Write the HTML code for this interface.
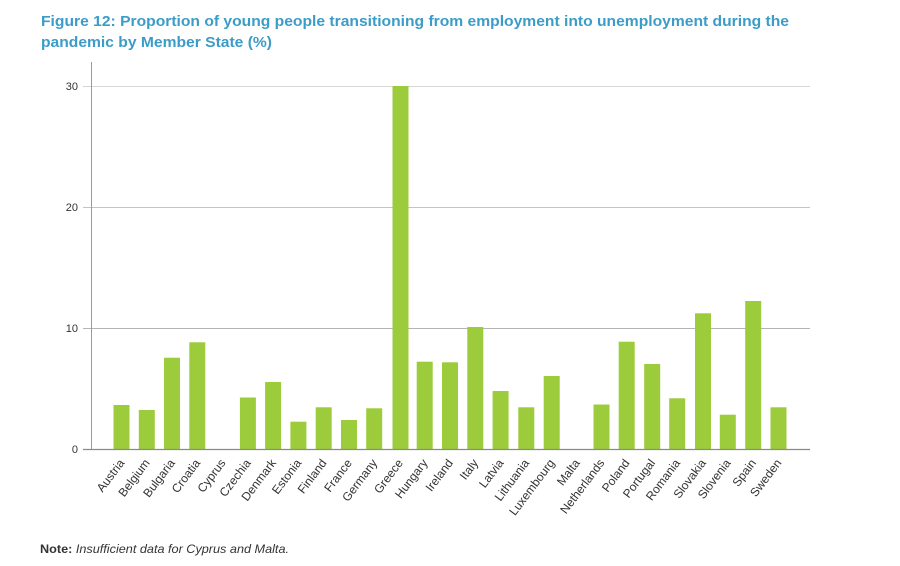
<!DOCTYPE html>
<html>
<head>
<meta charset="utf-8">
<style>
html,body{margin:0;padding:0;background:#fff;}
body{width:900px;height:566px;overflow:hidden;}
svg{display:block;}
</style>
</head>
<body>
<svg width="900" height="566" viewBox="0 0 900 566" xmlns="http://www.w3.org/2000/svg" font-family="Liberation Sans, sans-serif">
  <rect width="900" height="566" fill="#fff"/>
  <!-- Title -->
  <text x="41" y="26" font-size="15" font-weight="bold" fill="#3b9cc8" textLength="748" lengthAdjust="spacingAndGlyphs">Figure 12: Proportion of young people transitioning from employment into unemployment during the</text>
  <text x="41" y="47" font-size="15" font-weight="bold" fill="#3b9cc8" textLength="231" lengthAdjust="spacingAndGlyphs">pandemic by Member State (%)</text>

  <!-- gridlines -->
  <line x1="83" y1="86.5" x2="810" y2="86.5" stroke="#d6d6d6" stroke-width="1"/>
  <line x1="83" y1="207.5" x2="810" y2="207.5" stroke="#c4c4c4" stroke-width="1"/>
  <line x1="83" y1="328.5" x2="810" y2="328.5" stroke="#b4b4b4" stroke-width="1"/>

  <!-- y labels -->
  <g font-size="11" fill="#333" text-anchor="end">
    <text x="78" y="90">30</text>
    <text x="78" y="211">20</text>
    <text x="78" y="332">10</text>
    <text x="78" y="453">0</text>
  </g>

  <!-- bars -->
  <g fill="#9ccb3b">
    <rect x="113.5" y="405" width="16" height="44"/>
    <rect x="138.8" y="410" width="16" height="39"/>
    <rect x="164.0" y="357.7" width="16" height="91.3"/>
    <rect x="189.3" y="342.3" width="16" height="106.7"/>
    <rect x="239.9" y="397.5" width="16" height="51.5"/>
    <rect x="265.1" y="382" width="16" height="67"/>
    <rect x="290.4" y="421.7" width="16" height="27.3"/>
    <rect x="315.7" y="407.3" width="16" height="41.7"/>
    <rect x="341.0" y="420" width="16" height="29"/>
    <rect x="366.2" y="408.3" width="16" height="40.7"/>
    <rect x="392.5" y="86" width="16" height="363"/>
    <rect x="416.7" y="361.7" width="16" height="87.3"/>
    <rect x="442.0" y="362.3" width="16" height="86.7"/>
    <rect x="467.3" y="327" width="16" height="122"/>
    <rect x="492.6" y="391" width="16" height="58"/>
    <rect x="518.3" y="407.3" width="16" height="41.7"/>
    <rect x="543.7" y="376" width="16" height="73"/>
    <rect x="593.5" y="404.5" width="16" height="44.5"/>
    <rect x="618.7" y="341.7" width="16" height="107.3"/>
    <rect x="644.2" y="364" width="16" height="85"/>
    <rect x="669.2" y="398.3" width="16" height="50.7"/>
    <rect x="695.0" y="313.3" width="16" height="135.7"/>
    <rect x="719.8" y="414.7" width="16" height="34.3"/>
    <rect x="745.2" y="301" width="16" height="148"/>
    <rect x="770.5" y="407.3" width="16" height="41.7"/>
  </g>

  <!-- axes -->
  <line x1="91.5" y1="62" x2="91.5" y2="449" stroke="#9a9a9a" stroke-width="1"/>
  <line x1="83" y1="449.5" x2="810" y2="449.5" stroke="#8a8a8a" stroke-width="1.2"/>

  <!-- x labels -->
  <g font-size="12" fill="#333" text-anchor="end">
    <text transform="translate(125,463) rotate(-53)">Austria</text>
    <text transform="translate(150.3,463) rotate(-53)">Belgium</text>
    <text transform="translate(175.5,463) rotate(-53)">Bulgaria</text>
    <text transform="translate(200.8,463) rotate(-53)">Croatia</text>
    <text transform="translate(226.1,463) rotate(-53)">Cyprus</text>
    <text transform="translate(251.4,463) rotate(-53)">Czechia</text>
    <text transform="translate(276.6,463) rotate(-53)">Denmark</text>
    <text transform="translate(301.9,463) rotate(-53)">Estonia</text>
    <text transform="translate(327.2,463) rotate(-53)">Finland</text>
    <text transform="translate(352.5,463) rotate(-53)">France</text>
    <text transform="translate(377.7,463) rotate(-53)">Germany</text>
    <text transform="translate(403.5,463) rotate(-53)">Greece</text>
    <text transform="translate(428.2,463) rotate(-53)">Hungary</text>
    <text transform="translate(453.5,463) rotate(-53)">Ireland</text>
    <text transform="translate(478.8,463) rotate(-53)">Italy</text>
    <text transform="translate(504.1,463) rotate(-53)">Latvia</text>
    <text transform="translate(529.8,463) rotate(-53)">Lithuania</text>
    <text transform="translate(555.2,463) rotate(-53)">Luxembourg</text>
    <text transform="translate(580.4,463) rotate(-53)">Malta</text>
    <text transform="translate(605,463) rotate(-53)">Netherlands</text>
    <text transform="translate(630.2,463) rotate(-53)">Poland</text>
    <text transform="translate(655.7,463) rotate(-53)">Portugal</text>
    <text transform="translate(680.7,463) rotate(-53)">Romania</text>
    <text transform="translate(706.5,463) rotate(-53)">Slovakia</text>
    <text transform="translate(731.3,463) rotate(-53)">Slovenia</text>
    <text transform="translate(756.7,463) rotate(-53)">Spain</text>
    <text transform="translate(782,463) rotate(-53)">Sweden</text>
  </g>

  <!-- note -->
  <text x="40" y="553" font-size="12" fill="#333" textLength="249" lengthAdjust="spacingAndGlyphs"><tspan font-weight="bold">Note:</tspan><tspan font-style="italic"> Insufficient data for Cyprus and Malta.</tspan></text>
</svg>
</body>
</html>
